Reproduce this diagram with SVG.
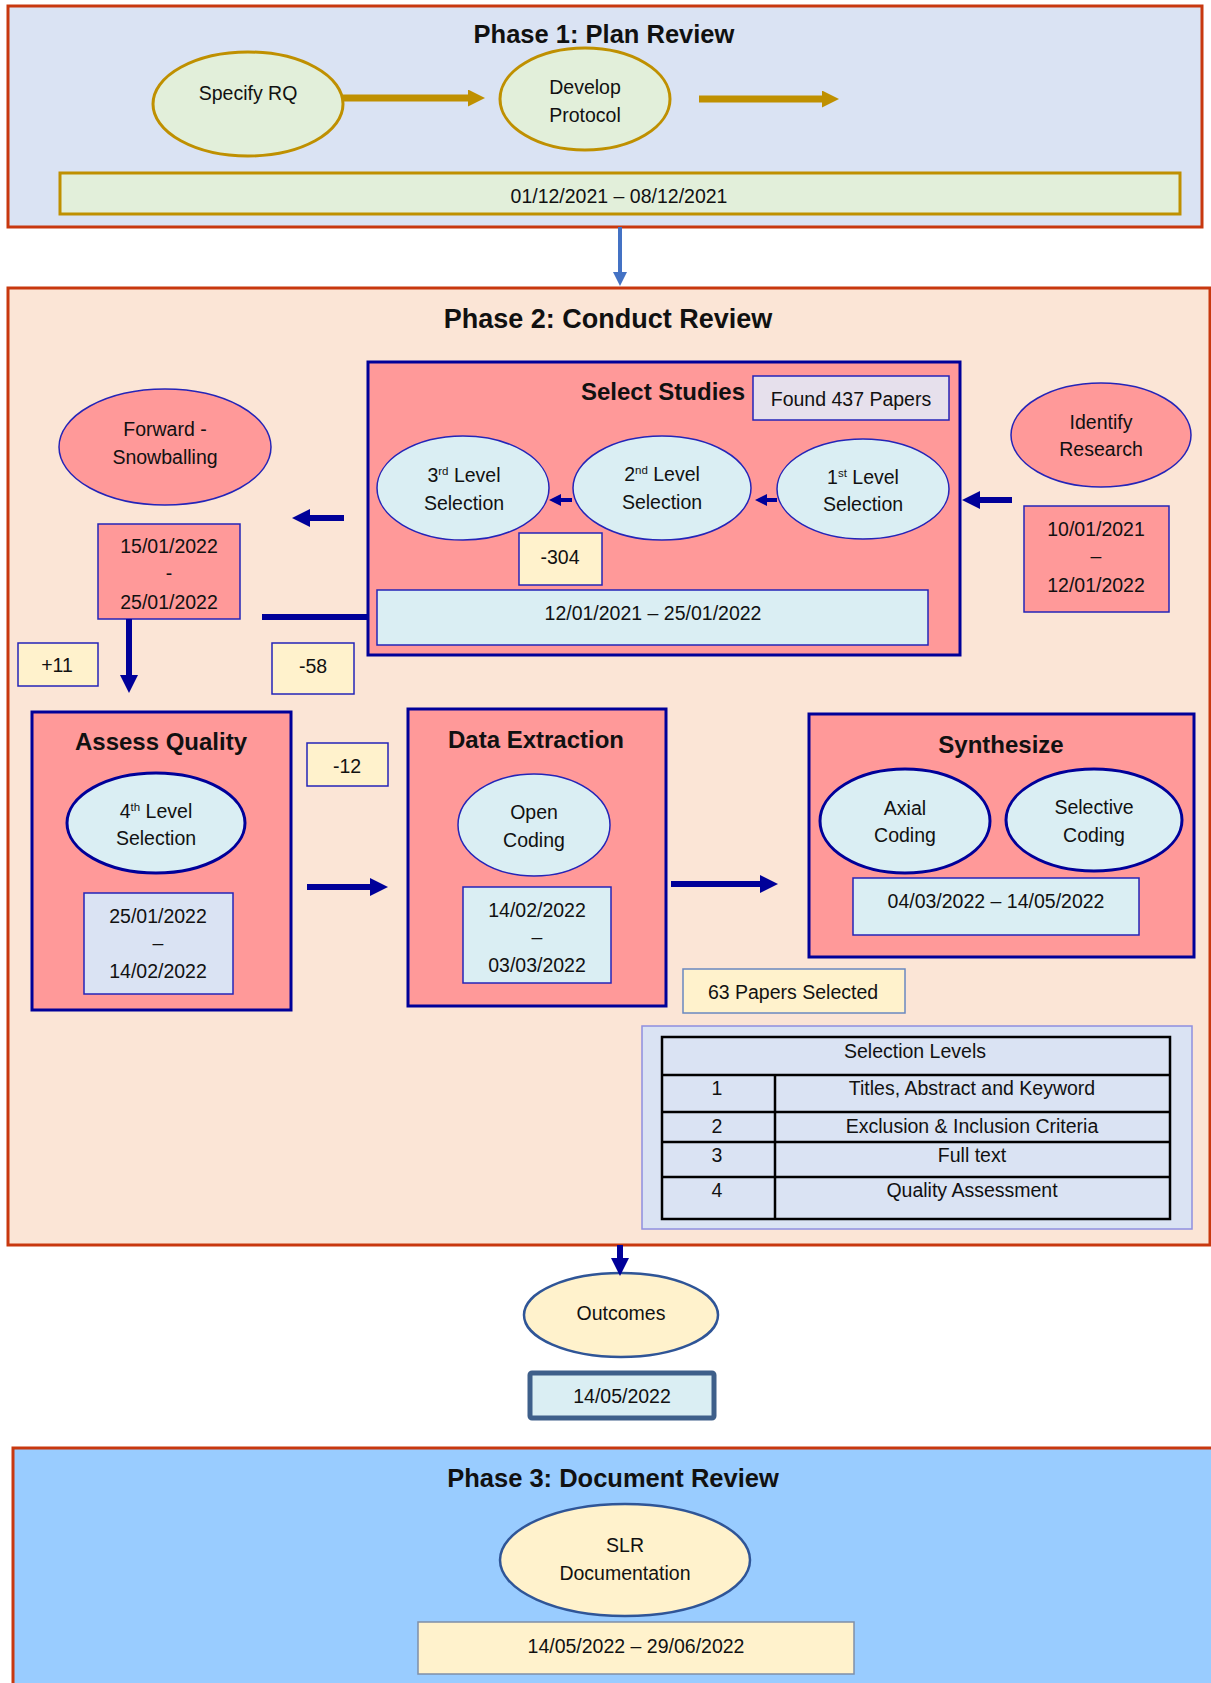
<svg xmlns="http://www.w3.org/2000/svg" width="1211" height="1683" viewBox="0 0 1211 1683">
<style>
text{font-family:"Liberation Sans",Arial,sans-serif;fill:#111;text-anchor:middle}
.t{font-size:19.5px}
.h{font-size:24px;font-weight:bold}
.ph{font-size:25.5px;font-weight:bold}
.sup{font-size:11.5px}
.phase{stroke:#C8380F;stroke-width:3}
.pink{fill:#FF9999;stroke:#000099;stroke-width:3}
.pinkthin{fill:#FF9999;stroke:#2424B8;stroke-width:1.5}
.lb{fill:#DAEEF3;stroke:#2424B8;stroke-width:1.5}
.lbthick{fill:#DAEEF3;stroke:#000099;stroke-width:3}
.yl{fill:#FFF2CC;stroke:#2424B8;stroke-width:1.5}
.gr{fill:#E2EFDA;stroke:#BF9000;stroke-width:3}
.nav{stroke:#000099;stroke-width:6;fill:none}
.navs{stroke:#000099;stroke-width:4;fill:none}
.gold{stroke:#BF9000;stroke-width:7;fill:none}
.tb{fill:none;stroke:#000;stroke-width:2.5}
</style>
<defs>
<marker id="ahN" markerUnits="userSpaceOnUse" markerWidth="18" markerHeight="18" viewBox="0 0 18 18" refX="0" refY="9" orient="auto"><path d="M0,0 L18,9 L0,18 z" fill="#000099"/></marker>
<marker id="ahS" markerUnits="userSpaceOnUse" markerWidth="12" markerHeight="12" viewBox="0 0 12 12" refX="0" refY="6" orient="auto"><path d="M0,0 L12,6 L0,12 z" fill="#000099"/></marker>
<marker id="ahG" markerUnits="userSpaceOnUse" markerWidth="17" markerHeight="17" viewBox="0 0 17 17" refX="0" refY="8.5" orient="auto"><path d="M0,0 L17,8.5 L0,17 z" fill="#BF9000"/></marker>
<marker id="ahB" markerUnits="userSpaceOnUse" markerWidth="14" markerHeight="14" viewBox="0 0 14 14" refX="0" refY="7" orient="auto"><path d="M0,0 L14,7 L0,14 z" fill="#4472C4"/></marker>
</defs>
<rect width="1211" height="1683" fill="#fff"/>

<g id="phase1">
<rect class="phase" x="8" y="6" width="1194" height="221" fill="#DAE3F3"/>
<text class="ph" x="604" y="43">Phase 1: Plan Review</text>
</g>
<g id="specify-rq">
<ellipse class="gr" cx="248" cy="104" rx="95" ry="52"/>
<text class="t" x="248" y="100">Specify RQ</text>
</g>
<g id="develop-protocol">
<ellipse class="gr" cx="585" cy="99" rx="85" ry="51"/>
<text class="t" x="585" y="94">Develop</text>
<text class="t" x="585" y="122">Protocol</text>
</g>
<g id="phase1-date">
<rect x="60" y="173" width="1120" height="41" fill="#E2EFDA" stroke="#BF9000" stroke-width="3"/>
<text class="t" x="619" y="203">01/12/2021 – 08/12/2021</text>
</g>

<g id="phase2">
<rect class="phase" x="8" y="288" width="1202" height="957" fill="#FBE5D6"/>
<text class="ph" x="608" y="328" style="font-size:27px">Phase 2: Conduct Review</text>
</g>
<g id="select-studies">
<rect class="pink" x="368" y="362" width="592" height="293"/>
<text class="h" x="663" y="400">Select Studies</text>
</g>
<g id="found-437">
<rect x="753" y="376" width="196" height="44" fill="#E6E0EC" stroke="#2424B8" stroke-width="1.5"/>
<text class="t" x="851" y="406">Found 437 Papers</text>
</g>
<g id="level1">
<ellipse class="lb" cx="863" cy="489" rx="86" ry="50"/>
<text class="t" x="863" y="484">1<tspan class="sup" dy="-7">st</tspan><tspan dy="7"> Level</tspan></text>
<text class="t" x="863" y="511">Selection</text>
</g>
<g id="level2">
<ellipse class="lb" cx="662" cy="488" rx="89" ry="52"/>
<text class="t" x="662" y="481">2<tspan class="sup" dy="-7">nd</tspan><tspan dy="7"> Level</tspan></text>
<text class="t" x="662" y="509">Selection</text>
</g>
<g id="level3">
<ellipse class="lb" cx="463" cy="488" rx="86" ry="52"/>
<text class="t" x="464" y="482">3<tspan class="sup" dy="-7">rd</tspan><tspan dy="7"> Level</tspan></text>
<text class="t" x="464" y="510">Selection</text>
</g>
<g id="minus304">
<rect class="yl" x="519" y="533" width="83" height="52"/>
<text class="t" x="560" y="564">-304</text>
</g>
<g id="select-date">
<rect class="lb" x="377" y="590" width="551" height="55"/>
<text class="t" x="653" y="620">12/01/2021 – 25/01/2022</text>
</g>
<g id="identify-research">
<ellipse class="pinkthin" cx="1101" cy="435" rx="90" ry="52"/>
<text class="t" x="1101" y="429">Identify</text>
<text class="t" x="1101" y="456">Research</text>
</g>
<g id="identify-date">
<rect class="pinkthin" x="1024" y="506" width="145" height="106"/>
<text class="t" x="1096" y="536">10/01/2021</text>
<text class="t" x="1096" y="563">–</text>
<text class="t" x="1096" y="592">12/01/2022</text>
</g>
<g id="forward-snowballing">
<ellipse class="pinkthin" cx="165" cy="447" rx="106" ry="58"/>
<text class="t" x="165" y="436">Forward -</text>
<text class="t" x="165" y="464">Snowballing</text>
</g>
<g id="forward-date">
<rect class="pinkthin" x="98" y="524" width="142" height="95"/>
<text class="t" x="169" y="553">15/01/2022</text>
<text class="t" x="169" y="580">-</text>
<text class="t" x="169" y="609">25/01/2022</text>
</g>
<g id="plus11">
<rect class="yl" x="18" y="643" width="80" height="43"/>
<text class="t" x="57" y="672">+11</text>
</g>
<g id="minus58">
<rect class="yl" x="272" y="643" width="82" height="51"/>
<text class="t" x="313" y="673">-58</text>
</g>
<g id="assess-quality">
<rect class="pink" x="32" y="712" width="259" height="298"/>
<text class="h" x="161" y="750">Assess Quality</text>
</g>
<g id="level4">
<ellipse class="lbthick" cx="156" cy="823" rx="89" ry="50"/>
<text class="t" x="156" y="818">4<tspan class="sup" dy="-7">th</tspan><tspan dy="7"> Level</tspan></text>
<text class="t" x="156" y="845">Selection</text>
</g>
<g id="assess-date">
<rect x="84" y="893" width="149" height="101" fill="#DAE3F3" stroke="#2424B8" stroke-width="1.5"/>
<text class="t" x="158" y="923">25/01/2022</text>
<text class="t" x="158" y="950">–</text>
<text class="t" x="158" y="978">14/02/2022</text>
</g>
<g id="minus12">
<rect class="yl" x="307" y="743" width="81" height="43"/>
<text class="t" x="347" y="773">-12</text>
</g>
<g id="data-extraction">
<rect class="pink" x="408" y="709" width="258" height="297"/>
<text class="h" x="536" y="748">Data Extraction</text>
</g>
<g id="open-coding">
<ellipse class="lb" cx="534" cy="825" rx="76" ry="51"/>
<text class="t" x="534" y="819">Open</text>
<text class="t" x="534" y="847">Coding</text>
</g>
<g id="extraction-date">
<rect class="lb" x="463" y="887" width="148" height="96"/>
<text class="t" x="537" y="917">14/02/2022</text>
<text class="t" x="537" y="944">–</text>
<text class="t" x="537" y="972">03/03/2022</text>
</g>
<g id="synthesize">
<rect class="pink" x="809" y="714" width="385" height="243"/>
<text class="h" x="1001" y="753">Synthesize</text>
</g>
<g id="axial-coding">
<ellipse class="lbthick" cx="905" cy="821" rx="85" ry="52"/>
<text class="t" x="905" y="815">Axial</text>
<text class="t" x="905" y="842">Coding</text>
</g>
<g id="selective-coding">
<ellipse class="lbthick" cx="1094" cy="820" rx="88" ry="51"/>
<text class="t" x="1094" y="814">Selective</text>
<text class="t" x="1094" y="842">Coding</text>
</g>
<g id="synth-date">
<rect class="lb" x="853" y="878" width="286" height="57"/>
<text class="t" x="996" y="908">04/03/2022 – 14/05/2022</text>
</g>
<g id="papers-63">
<rect x="683" y="969" width="222" height="44" fill="#FFF2CC" stroke="#6A88C0" stroke-width="1.5"/>
<text class="t" x="793" y="999">63 Papers Selected</text>
</g>
<g id="selection-levels">
<rect x="642" y="1026" width="550" height="203" fill="#DAE3F3" stroke="#8F8FE0" stroke-width="1.5"/>
<rect class="tb" x="662" y="1037" width="508" height="182"/>
<path class="tb" d="M662,1075 H1170 M662,1112 H1170 M662,1142 H1170 M662,1177 H1170 M775,1075 V1219"/>
<text class="t" x="915" y="1058">Selection Levels</text>
<text class="t" x="717" y="1095">1</text>
<text class="t" x="972" y="1095">Titles, Abstract and Keyword</text>
<text class="t" x="717" y="1133">2</text>
<text class="t" x="972" y="1133">Exclusion &amp; Inclusion Criteria</text>
<text class="t" x="717" y="1162">3</text>
<text class="t" x="972" y="1162">Full text</text>
<text class="t" x="717" y="1197">4</text>
<text class="t" x="972" y="1197">Quality Assessment</text>
</g>
<g id="outcomes">
<ellipse cx="621" cy="1315" rx="97" ry="42" fill="#FFF2CC" stroke="#2F5597" stroke-width="2.5"/>
<text class="t" x="621" y="1320">Outcomes</text>
</g>
<g id="outcomes-date">
<rect x="530" y="1373" width="184" height="45" rx="2" fill="#DAEEF3" stroke="#3E5F8A" stroke-width="5"/>
<text class="t" x="622" y="1403">14/05/2022</text>
</g>
<g id="phase3">
<rect class="phase" x="13" y="1448" width="1210" height="250" fill="#99CCFF"/>
<text class="ph" x="613" y="1487">Phase 3: Document Review</text>
</g>
<g id="slr-documentation">
<ellipse cx="625" cy="1560" rx="125" ry="56" fill="#FFF2CC" stroke="#2F5597" stroke-width="2.5"/>
<text class="t" x="625" y="1552">SLR</text>
<text class="t" x="625" y="1580">Documentation</text>
</g>
<g id="phase3-date">
<rect x="418" y="1622" width="436" height="52" fill="#FFF2CC" stroke="#7F8FA8" stroke-width="1.5"/>
<text class="t" x="636" y="1653">14/05/2022 – 29/06/2022</text>
</g>

<g id="connectors">
<path class="gold" d="M343,98 H468" marker-end="url(#ahG)"/>
<path class="gold" d="M699,99 H822" marker-end="url(#ahG)"/>
<path d="M620,227 V272" stroke="#4472C4" stroke-width="4" marker-end="url(#ahB)"/>
<path class="nav" d="M1012,500 H980" marker-end="url(#ahN)"/>
<path class="navs" d="M777,500 H767" marker-end="url(#ahS)"/>
<path class="navs" d="M572,500 H561" marker-end="url(#ahS)"/>
<path class="nav" d="M344,518 H310" marker-end="url(#ahN)"/>
<path class="nav" d="M368,617 H262"/>
<path class="nav" d="M129,619 V675" marker-end="url(#ahN)"/>
<path class="nav" d="M307,887 H370" marker-end="url(#ahN)"/>
<path class="nav" d="M671,884 H760" marker-end="url(#ahN)"/>
<path class="nav" d="M620,1245 V1258" marker-end="url(#ahN)"/>
</g>
</svg>
